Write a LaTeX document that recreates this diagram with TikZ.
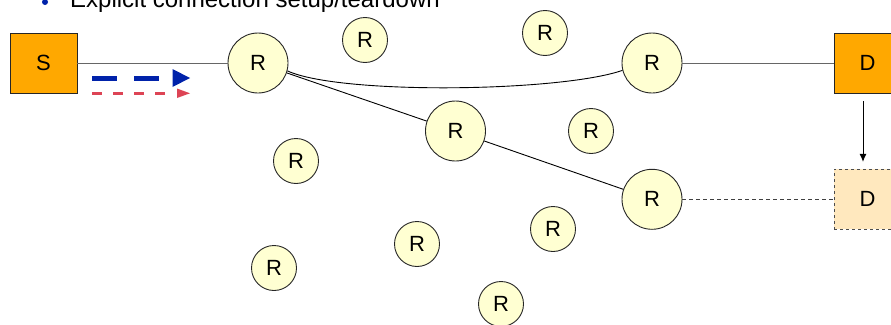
\documentclass[tikz,border=0pt]{standalone}
\usepackage{fontspec}
\setmainfont{Liberation Sans}
\usetikzlibrary{arrows.meta}
\begin{document}
\begin{tikzpicture}[x=1pt,y=1pt,
  router/.style={circle,draw=black!85,line width=0.9pt,fill=routerfill,inner sep=0pt,font=\fontsize{22}{24}\selectfont},
  bigr/.style={router,minimum size=60pt},
  smallr/.style={router,minimum size=45pt},
  host/.style={rectangle,draw=black!85,line width=0.9pt,fill=hostfill,minimum width=67pt,minimum height=60pt,inner sep=0pt,font=\fontsize{22}{24}\selectfont},
  ghost/.style={host,fill=ghostfill,dashed,draw=black!70},
  link/.style={draw=black!60,line width=1pt},
  cpath/.style={draw=black,line width=0.9pt}]
\definecolor{routerfill}{HTML}{FFFFD2}
\definecolor{hostfill}{HTML}{FFA800}
\definecolor{ghostfill}{HTML}{FFE8BE}
\definecolor{bblue}{HTML}{0022AA}
\definecolor{rred}{HTML}{DD4455}
\useasboundingbox (0,0) rectangle (891,-324);
% title (cut off)
\node[anchor=base west,font=\fontsize{24}{26}\selectfont,inner sep=0pt] (title) at (70,-7) {Explicit connection setup/teardown};
\fill[bblue] (45,-2) circle (3);
% hosts
\node[host] (S) at (43.5,-63) {S};
\node[host] (D) at (867.5,-63) {D};
\node[ghost] (D2) at (867.5,-199.3) {D};
% routers
\node[bigr] (R1) at (258,-63) {R};
\node[bigr] (R2) at (652,-63) {R};
\node[bigr] (R3) at (455.5,-131) {R};
\node[bigr] (R4) at (652,-199.3) {R};
\node[smallr] (R5) at (365,-40) {R};
\node[smallr] (R6) at (545,-33) {R};
\node[smallr] (R7) at (591,-131) {R};
\node[smallr] (R8) at (296,-161) {R};
\node[smallr] (R9) at (417,-244) {R};
\node[smallr] (R10) at (553,-229) {R};
\node[smallr] (R11) at (274,-268) {R};
\node[smallr] (R12) at (501,-304) {R};
% connectors
\draw[link] (S) -- (R1);
\draw[link] (R2) -- (D);
\draw[cpath] (R1.-15) .. controls (340,-95) and (560,-92) .. (R2.194);
\draw[cpath] (R1) -- (R3);
\draw[cpath] (R3) -- (R4);
\draw[link,line width=0.9pt,dash pattern=on 4pt off 3pt,draw=black!75] (R4) -- (D2);
\draw[cpath,-{Latex[length=8pt,width=7pt]}] ([xshift=-4.5pt,yshift=-8pt]D.south) -- ([xshift=-4.5pt,yshift=7pt]D2.north);
% blue and red dashed arrows
\draw[bblue,line width=5pt,dash pattern=on 25pt off 17pt] (92,-78) -- (160,-78);
\fill[bblue] (172.5,-69) -- (190,-78) -- (172.5,-87) -- cycle;
\draw[rred,line width=3pt,dash pattern=on 9.5pt off 11.5pt] (92,-93.3) -- (165,-93.3);
\fill[rred] (177,-88.5) -- (190,-93.3) -- (177,-98) -- cycle;
\end{tikzpicture}
\end{document}
